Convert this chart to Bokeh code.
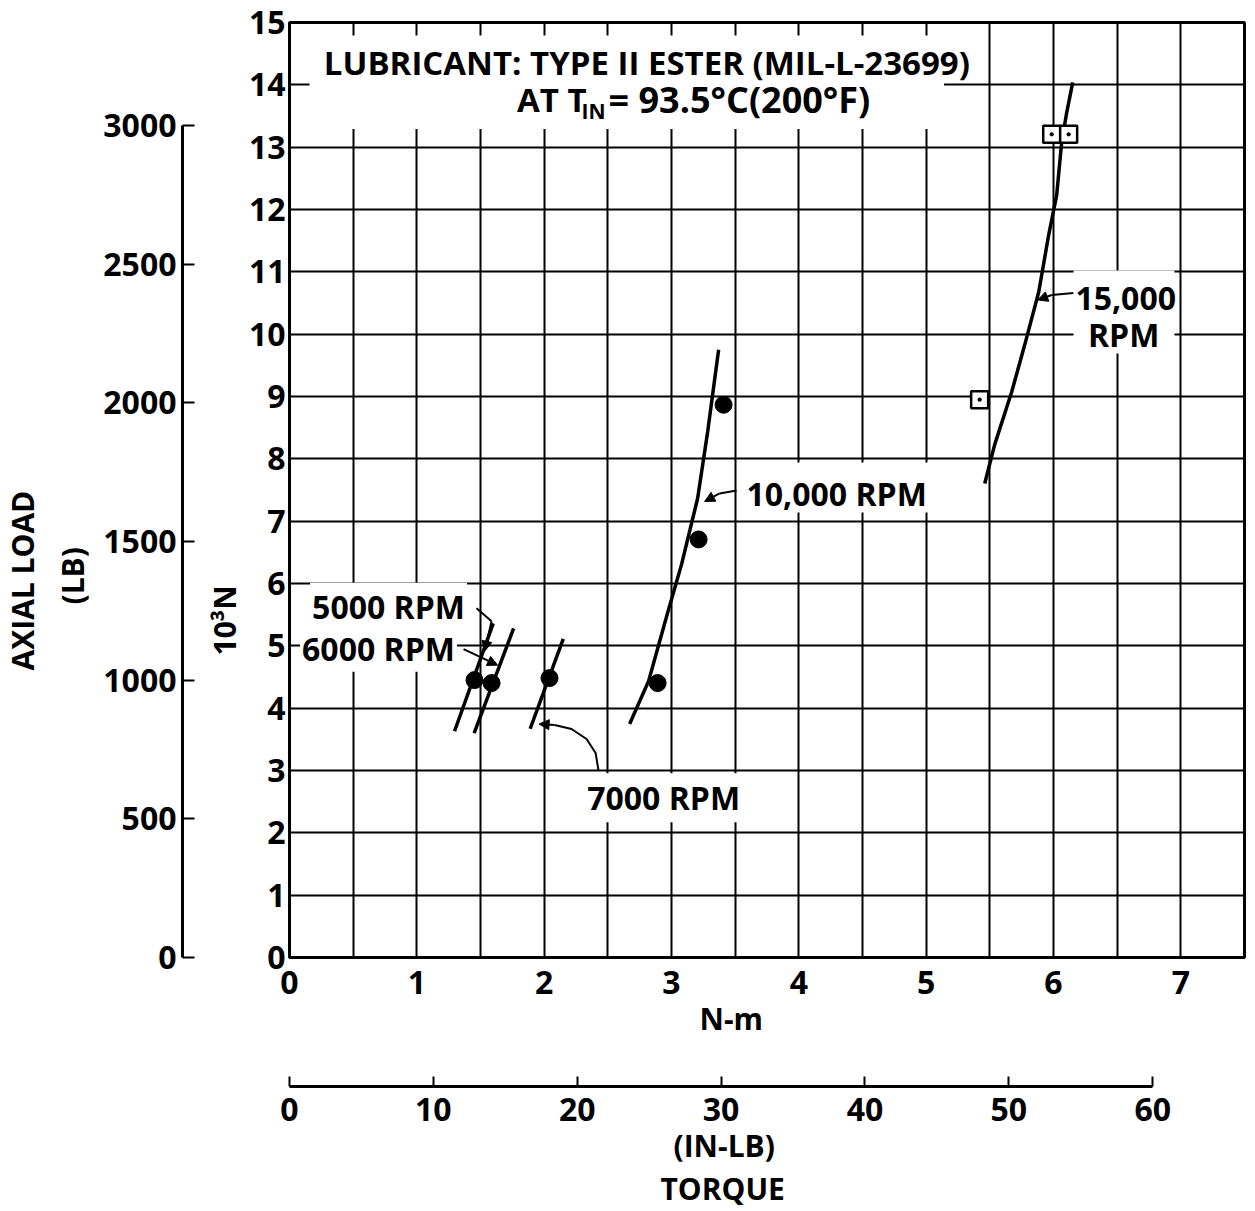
import numpy as np
from bokeh.plotting import figure
from bokeh.models import (Range1d, LinearAxis, FixedTicker, Label, Arrow,
                          NormalHead, BoxAnnotation, Title)
from bokeh.embed import file_html
from bokeh.resources import INLINE

FONT = "Open Sans"
KN_PER_KLB = 4.44822      # 10^3 N per 1000 lb
NM_PER_INLB = 0.112985

# ---------------- data ----------------
x_ticks = [0, 1, 2, 3, 4, 5, 6, 7]
y_ticks = list(range(0, 16))
lb_ticks = [0, 500, 1000, 1500, 2000, 2500, 3000]
inlb_ticks = [0, 10, 20, 30, 40, 50, 60]
x_grid = list(np.arange(0, 7.51, 0.5))
y_grid = list(range(0, 16))

circle_x = [1.453, 1.587, 2.042, 2.891, 3.213, 3.409]
circle_y = [4.450, 4.402, 4.482, 4.402, 6.707, 8.868]
square_x = [5.420, 5.986, 6.119]
square_y = [8.948, 13.206, 13.206]

rpm5000_x = [1.296, 1.600]
rpm5000_y = [3.63, 5.36]
rpm6000_x = [1.450, 1.760]
rpm6000_y = [3.60, 5.28]
rpm7000_x = [1.890, 2.150]
rpm7000_y = [3.67, 5.11]
rpm10000_x = [2.671, 2.820, 2.962, 3.079, 3.205, 3.284, 3.370]
rpm10000_y = [3.746, 4.434, 5.475, 6.307, 7.364, 8.436, 9.749]
rpm15000_x = [5.460, 5.538, 5.672, 5.774, 5.884, 5.962, 6.025, 6.064, 6.104, 6.151]
rpm15000_y = [7.604, 8.228, 9.076, 9.829, 10.677, 11.590, 12.230, 13.078, 13.559, 14.039]

# leader lines (annotation geometry)
lead5000_x = [1.469, 1.587, 1.532]
lead5000_y = [5.603, 5.395, 4.914]
lead6000_x = [1.367, 1.634]
lead6000_y = [4.946, 4.690]
lead7000_x = [2.427, 2.404, 2.333, 2.215, 2.082, 1.960]
lead7000_y = [2.993, 3.282, 3.506, 3.666, 3.730, 3.746]
lead10000_x = [3.511, 3.378, 3.260]
lead10000_y = [7.492, 7.444, 7.316]
lead15000_x = [6.159, 5.986, 5.876]
lead15000_y = [10.661, 10.629, 10.549]

# ---------------- figure ----------------
p = figure(frame_width=955, frame_height=935,
           x_range=Range1d(0, 7.5), y_range=Range1d(0, 15),
           output_backend="svg", toolbar_location=None,
           min_border_left=288, min_border_right=4, min_border_top=22,
           min_border_bottom=250, background_fill_color="white",
           border_fill_color="white")
p.outline_line_color = "black"
p.outline_line_width = 3
p.outline_line_alpha = 1

p.extra_y_ranges = {"lb": Range1d(0, 15 * 1000 / KN_PER_KLB)}
p.extra_x_ranges = {"inlb": Range1d(0, 7.5 / NM_PER_INLB)}

p.xgrid.ticker = FixedTicker(ticks=x_grid)
p.ygrid.ticker = FixedTicker(ticks=y_grid)
for g in (p.xgrid[0], p.ygrid[0]):
    g.grid_line_color = "black"
    g.grid_line_width = 2
    g.grid_line_alpha = 1


def style_axis(ax, size="32px"):
    ax.major_label_text_font = FONT
    ax.major_label_text_font_size = size
    ax.major_label_text_font_style = "bold"
    ax.major_label_text_color = "black"
    ax.axis_label_text_font = FONT
    ax.axis_label_text_font_size = "10px"
    ax.axis_label_text_font_style = "normal"
    ax.axis_line_color = "black"
    ax.axis_line_width = 3
    ax.major_tick_line_color = "black"
    ax.major_tick_line_width = 2
    ax.minor_tick_line_color = None
    ax.minor_tick_in = 0
    ax.minor_tick_out = 0


def spacer(standoff):
    ax = LinearAxis(ticker=FixedTicker(ticks=[]))
    style_axis(ax)
    ax.axis_line_color = None
    ax.major_tick_line_color = None
    ax.major_tick_in = 0
    ax.major_tick_out = 0
    ax.axis_label = "\u00a0"
    ax.axis_label_text_color = None
    ax.axis_label_standoff = standoff
    return ax


def side_title(text, offset, size="30px", standoff=0):
    return Title(text=text, align="left", offset=offset, standoff=standoff,
                 vertical_align="middle", text_font=FONT, text_font_size=size,
                 text_font_style="bold", text_color="black")


# main x axis (N-m)
xa = p.xaxis[0]
style_axis(xa)
xa.ticker = FixedTicker(ticks=x_ticks)
xa.major_tick_in = 0
xa.major_tick_out = 0
xa.major_label_standoff = 13

# main y axis (10^3 N)
ya = p.yaxis[0]
style_axis(ya)
ya.ticker = FixedTicker(ticks=y_ticks)
ya.major_tick_in = 0
ya.major_tick_out = 0
ya.major_label_standoff = 4

# left side: 10^3 N title, spacer, lb axis, (LB), AXIAL LOAD
p.add_layout(side_title("10³N", 302), "left")
p.add_layout(spacer(3), "left")
lb_axis = LinearAxis(y_range_name="lb", ticker=FixedTicker(ticks=lb_ticks),
                     bounds=(0, 3000))
style_axis(lb_axis)
lb_axis.major_tick_in = 12
lb_axis.major_tick_out = 0
lb_axis.major_label_standoff = 6
p.add_layout(lb_axis, "left")
p.add_layout(side_title("(LB)", 353, standoff=14), "left")
p.add_layout(side_title("AXIAL LOAD", 287), "left")

# bottom: N-m, spacer, torque axis, (IN-LB), TORQUE
p.add_layout(side_title("N-m", 410), "below")
p.add_layout(spacer(30), "below")
inlb_axis = LinearAxis(x_range_name="inlb", ticker=FixedTicker(ticks=inlb_ticks),
                       bounds=(0, 60))
style_axis(inlb_axis)
inlb_axis.major_tick_in = 10
inlb_axis.major_tick_out = 0
inlb_axis.major_label_standoff = 11
p.add_layout(inlb_axis, "below")
p.add_layout(side_title("(IN-LB)", 384), "below")
p.add_layout(side_title("TORQUE", 371), "below")

# ---------------- white boxes behind lettering ----------------
for l, r, b, t in ((0.157, 5.14, 13.29, 14.79),
                   (3.53, 5.03, 7.14, 7.94),
                   (6.157, 6.95, 9.69, 11.02)):
    p.add_layout(BoxAnnotation(left=l, right=r, bottom=b, top=t,
                               fill_color="white", fill_alpha=1, line_color=None))


def label(x, y, text, size="32px", align="center", bg=False, pad=3):
    lab = Label(x=x, y=y, text=text, text_align=align, text_baseline="middle",
                text_font=FONT, text_font_size=size, text_font_style="bold",
                text_color="black")
    if bg:
        lab.background_fill_color = "white"
        lab.background_fill_alpha = 1
        lab.padding = pad
    p.add_layout(lab)


label(2.84, 14.36, "LUBRICANT:  TYPE II ESTER (MIL-L-23699)", size="33px")
label(2.333, 13.77, "AT T", size="33px", align="right")
label(2.293, 13.58, "IN", size="21px", align="left")
label(2.506, 13.77, "= 93.5°C(200°F)", size="36px", align="left")

# ---------------- curves ----------------
for xs, ys in ((rpm5000_x, rpm5000_y), (rpm6000_x, rpm6000_y),
               (rpm7000_x, rpm7000_y), (rpm10000_x, rpm10000_y),
               (rpm15000_x, rpm15000_y)):
    p.line(xs, ys, line_color="black", line_width=3.5)

p.scatter(circle_x, circle_y, marker="circle", size=17, color="black")
p.scatter(square_x, square_y, marker="square_dot", size=17,
          fill_color="white", line_color="black", line_width=2.5)

# ---------------- leaders ----------------
for xs, ys in ((lead5000_x, lead5000_y), (lead6000_x, lead6000_y),
               (lead7000_x, lead7000_y), (lead10000_x, lead10000_y),
               (lead15000_x, lead15000_y)):
    if len(xs) > 2:
        p.line(xs[:-1], ys[:-1], line_color="black", line_width=2)
    p.add_layout(Arrow(end=NormalHead(size=10, fill_color="black",
                                      line_color="black"),
                       x_start=xs[-2], y_start=ys[-2], x_end=xs[-1], y_end=ys[-1],
                       line_color="black", line_width=2))

label(4.297, 7.444, "10,000 RPM")
label(6.567, 10.565, "15,000")
label(6.551, 9.989, "RPM")
label(0.778, 5.635, "5000 RPM", bg=True, pad=2)
label(0.699, 4.962, "6000 RPM", bg=True, pad=2)
label(2.938, 2.561, "7000 RPM", bg=True, pad=3)

open("out.html", "w").write(file_html(p, INLINE))
